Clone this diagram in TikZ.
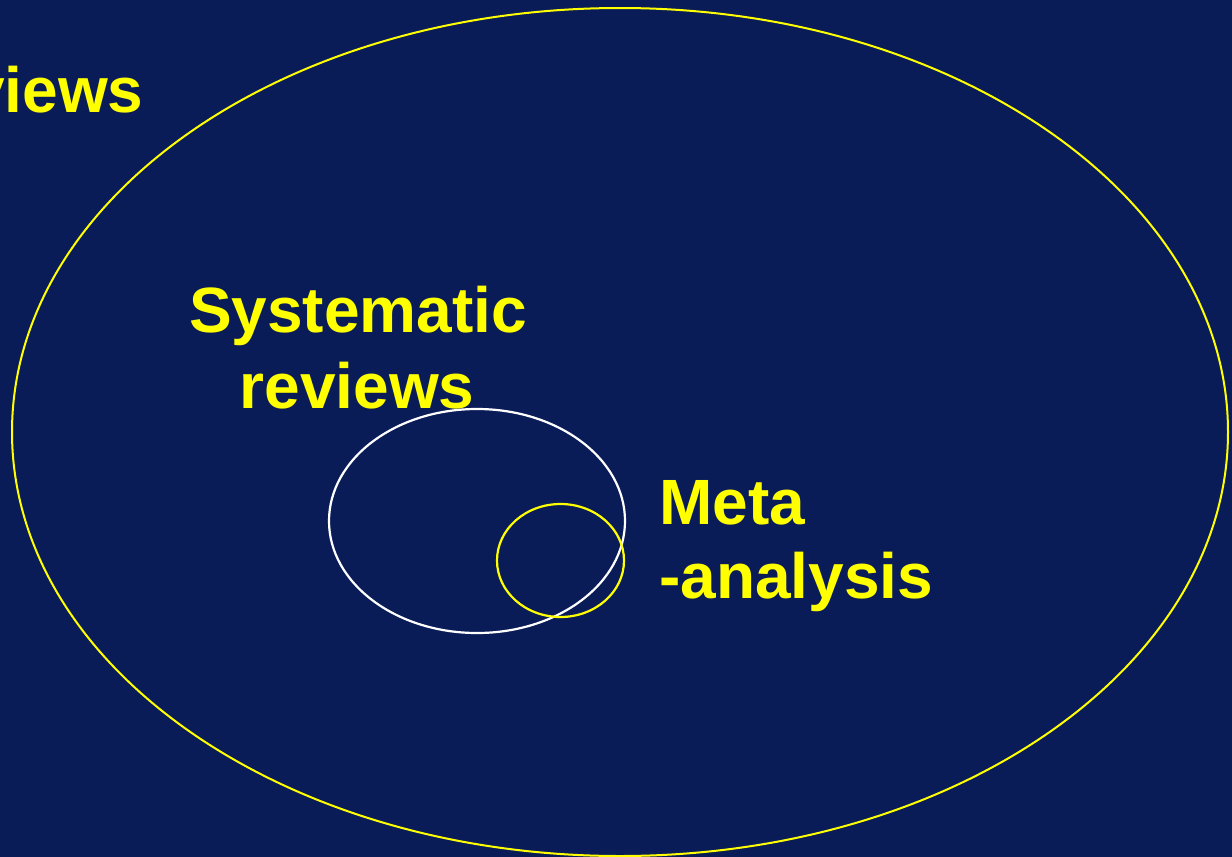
\documentclass[tikz,border=0pt]{standalone}
\usepackage{fontspec}
\setmainfont{Liberation Sans}
\definecolor{navy}{HTML}{0A1C58}
\definecolor{yel}{HTML}{FFFF00}
\tikzset{
  lbl/.style={text=yel, font=\bfseries\fontsize{64}{76}\selectfont, inner sep=0pt, anchor=base},
  ring/.style={draw=yel, line width=2.2pt}
}
\begin{document}
\begin{tikzpicture}[x=1pt,y=-1pt]
\useasboundingbox (0,0) rectangle (1232,857);
\clip (0,0) rectangle (1232,857);
\fill[navy] (0,0) rectangle (1232,857);
\draw[draw=yel, line width=2pt] (620,432) ellipse [x radius=608, y radius=424];
\draw[draw=white, line width=2.2pt] (477,521) ellipse [x radius=148, y radius=112];
\draw[ring] (560.5,560.5) ellipse [x radius=63.5, y radius=56.5];
\node[lbl, anchor=base west] (top) at (-31,112) {views};
\node[lbl] (sys) at (358,332) {Systematic};
\node[lbl] (rev) at (357,408) {reviews};
\node[lbl, anchor=base west] (meta) at (659,524) {Meta};
\node[lbl, anchor=base west] (ana) at (659,598) {-analysis};
\end{tikzpicture}
\end{document}
